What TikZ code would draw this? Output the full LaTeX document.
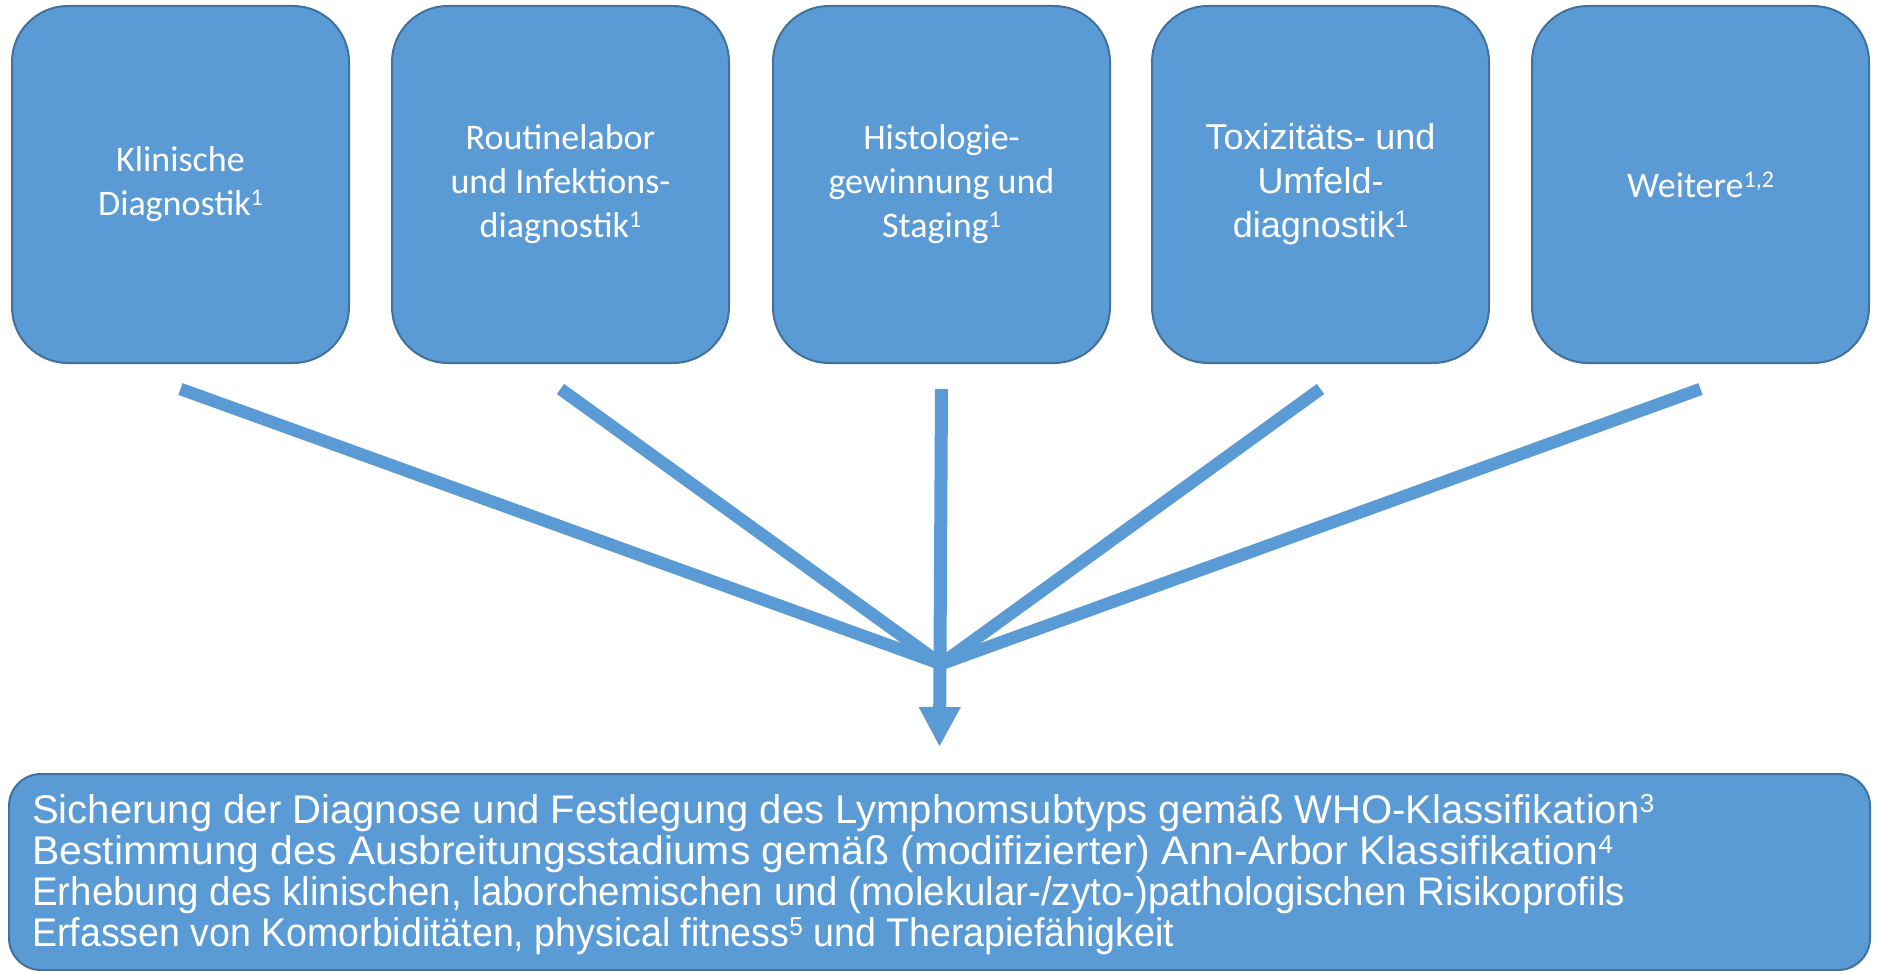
\documentclass[tikz,border=0pt]{standalone}
\usepackage{fontspec}
\usepackage{graphicx}
\setmainfont{Carlito}
\newfontfamily\arialf{Liberation Sans}
\usetikzlibrary{arrows.meta,calc}
\definecolor{boxfill}{HTML}{5B9BD5}
\definecolor{boxline}{HTML}{41719C}
\newcommand\topsup[1]{\raisebox{10pt}{\fontsize{24}{24}\selectfont #1}}
\newcommand\botsup[1]{\smash{\raisebox{11pt}{\fontsize{26}{26}\selectfont #1}}}
\newcommand\resline[2]{\resizebox{#1pt}{\height}{\strut #2}}
\begin{document}
\begin{tikzpicture}[x=1pt,y=-1pt,
  topbox/.style={draw=boxline, line width=2pt, fill=boxfill, rounded corners=56pt,
    minimum width=337pt, minimum height=357pt, inner sep=0pt, text=white,
    align=center, font=\fontsize{36}{44}\selectfont},
  resbox/.style={draw=boxline, line width=2pt, fill=boxfill, rounded corners=32pt,
    minimum width=1861pt, minimum height=196pt, inner sep=0pt},
  fan/.style={draw=boxfill, line width=12.5pt},
]
\useasboundingbox (0,0) rectangle (1877,971);

\node[topbox] (k1) at (180.5,184.5) {Klinische\\Diagnostik\topsup{1}};
\node[topbox] (k2) at (560.5,184.5) {Routinelabor\\und Infektions-\\diagnostik\topsup{1}};
\node[topbox] (k3) at (941.5,184.5) {Histologie-\\gewinnung und\\Staging\topsup{1}};
\node[topbox, font=\arialf\fontsize{36}{44}\selectfont] (k4) at (1320.5,184.5) {Toxizitäts- und\\Umfeld-\\diagnostik\topsup{1}};
\node[topbox] (k5) at (1700.5,184.5) {Weitere\topsup{1,2}};

\node[resbox] (res) at (939.5,872) {};
\node[anchor=base west, inner sep=0pt, text=white,
  font=\arialf\fontsize{40}{40.5}\selectfont] (restext) at (32,823)
  {\begin{tabular}[t]{@{}l@{}}
  \resline{1622}{Sicherung der Diagnose und Festlegung des Lymphomsubtyps gemäß WHO-Klassifikation\botsup{3}}\\
  \resline{1581}{Bestimmung des Ausbreitungsstadiums gemäß (modifizierter) Ann-Arbor Klassifikation\botsup{4}}\\
  \resline{1593}{Erhebung des klinischen, laborchemischen und (molekular-/zyto-)pathologischen Risikoprofils}\\
  \resline{1142}{Erfassen von Komorbiditäten, physical fitness\botsup{5} und Therapiefähigkeit}
  \end{tabular}};

\coordinate (m) at (941,664);
\foreach \n in {k1,k2,k4,k5}
  \draw[fan] ($(\n.south)+(0,25)$) -- (m);
\draw[fan, line width=13pt, -{Triangle[width=39pt,length=40pt]}]
  ($(k3.south)+(0,25)$) -- ($(res.north)+(0,-26)$);
\end{tikzpicture}
\end{document}
